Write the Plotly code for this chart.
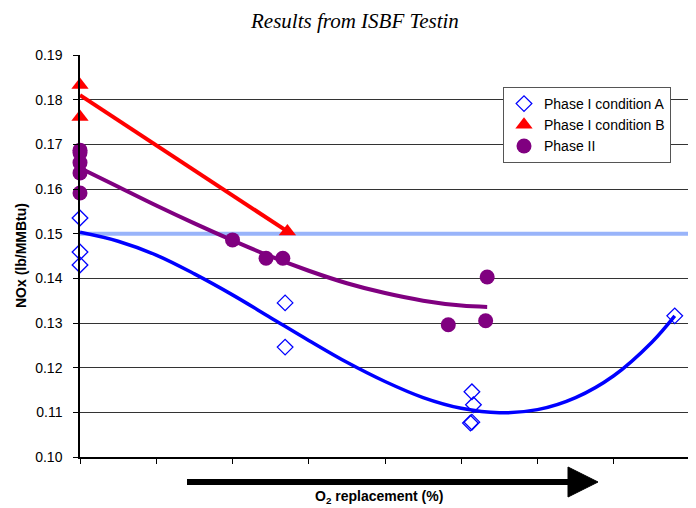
import plotly.graph_objects as go

# Phase I condition A (open diamonds)
a_x = [0, 0, 0, 2.69, 2.69, 5.14, 5.16, 5.14, 5.12, 7.80]
a_y = [0.1535, 0.1459, 0.1430, 0.1345, 0.1246, 0.1146, 0.1117, 0.1078, 0.1076, 0.1316]
# Phase I condition A trend line
a_tx = [0, 0.5, 1, 1.5, 2, 2.5, 3, 3.5, 4, 4.5, 5, 5.5, 6, 6.5, 7, 7.5, 7.8]
a_ty = [0.1503, 0.1483, 0.1452, 0.1410, 0.1363, 0.1312, 0.1261, 0.1212, 0.1169, 0.1133, 0.1109,
        0.1099, 0.1106, 0.1133, 0.1182, 0.1257, 0.1316]

# Phase I condition B (triangles)
b_x = [0, 0, 2.72]
b_y = [0.1833, 0.1761, 0.1505]
b_tx = [0, 2.72]
b_ty = [0.1810, 0.1505]

# Phase II (circles)
p_x = [0, 0, 0, 0, 0, 2.0, 2.44, 2.66, 4.83, 5.34, 5.32]
p_y = [0.1687, 0.1681, 0.1659, 0.1636, 0.1591, 0.1486, 0.1445, 0.1445, 0.1296, 0.1403, 0.1305]
p_tx = [0, 0.5, 1, 1.5, 2, 2.5, 3, 3.5, 4, 4.5, 5, 5.34]
p_ty = [0.1647, 0.1605, 0.1563, 0.1523, 0.1485, 0.1449, 0.1417, 0.1389, 0.1367, 0.1350, 0.1339, 0.1336]

# reference level
ref_level = 0.15

y_ticks = [0.10, 0.11, 0.12, 0.13, 0.14, 0.15, 0.16, 0.17, 0.18, 0.19]
x_ticks = list(range(0, 9))

# page body has an 8px margin: work in figure coordinates = screen - 8
OFF = 8
L, R, T, B = 80 - OFF, 690 - OFF, 55 - OFF, 457 - OFF
PW, PH = R - L, B - T
W, H = 696, 508


def px(x):
    return (x - OFF - L) / PW


def py(y):
    return (B - (y - OFF)) / PH


fig = go.Figure()

fig.add_trace(go.Scatter(x=[0, 8], y=[ref_level, ref_level], mode="lines",
                         line=dict(color="#99b4fa", width=4), showlegend=False, hoverinfo="skip"))
fig.add_trace(go.Scatter(x=a_tx, y=a_ty, mode="lines", line=dict(color="#0000ff", width=3.5, shape="spline"),
                         showlegend=False, hoverinfo="skip"))
fig.add_trace(go.Scatter(x=p_tx, y=p_ty, mode="lines", line=dict(color="#800080", width=4, shape="spline"),
                         showlegend=False, hoverinfo="skip"))
fig.add_trace(go.Scatter(x=b_tx, y=b_ty, mode="lines", line=dict(color="#ff0000", width=4),
                         showlegend=False, hoverinfo="skip"))

fig.add_trace(go.Scatter(x=a_x, y=a_y, mode="markers", name="Phase I condition A", cliponaxis=False,
                         marker=dict(symbol="diamond-open", size=12, color="#0000ff", line=dict(width=1.3))))
fig.add_trace(go.Scatter(x=b_x, y=b_y, mode="markers", name="Phase I condition B", cliponaxis=False,
                         marker=dict(symbol="triangle-up", size=15, color="#ff0000")))
fig.add_trace(go.Scatter(x=p_x, y=p_y, mode="markers", name="Phase II", cliponaxis=False,
                         marker=dict(symbol="circle", size=15, color="#800080")))

fig.update_layout(
    width=W, height=H,
    margin=dict(l=L, r=W - R, t=T, b=H - B, autoexpand=False),
    paper_bgcolor="white", plot_bgcolor="white",
    font=dict(family="Liberation Sans, Arial", color="#000000"),
    annotations=[
        dict(text="<i>Results from ISBF Testin</i>", xref="paper", yref="paper",
             x=px(354), y=py(21), xanchor="center", yanchor="middle",
             showarrow=False, font=dict(family="Liberation Serif, Times New Roman", size=21)),
        dict(text="<b>O<sub>2</sub> replacement (%)</b>", xref="paper", yref="paper",
             x=px(379), y=py(497), xanchor="center", yanchor="middle",
             showarrow=False, font=dict(size=14)),
        dict(text="<b>NOx (lb/MMBtu)</b>", xref="paper", yref="paper", textangle=-90,
             x=px(21), y=py(256), xanchor="center", yanchor="middle",
             showarrow=False, font=dict(size=14)),
    ],
    shapes=[
        dict(type="line", xref="paper", yref="paper", x0=1, x1=1, y0=0, y1=1,
             line=dict(color="#808080", width=2)),
        dict(type="line", xref="paper", yref="paper", x0=px(187), x1=px(572),
             y0=py(482), y1=py(482), line=dict(color="black", width=6)),
        dict(type="path", xref="paper", yref="paper",
             path="M {0},{1} L {2},{3} L {0},{4} Z".format(px(568), py(467), px(598), py(482), py(497)),
             fillcolor="black", line=dict(color="black", width=1)),
    ],
    legend=dict(x=px(503), y=py(87), xanchor="left", yanchor="top",
                bgcolor="white", bordercolor="#555555", borderwidth=1,
                font=dict(size=14, family="Liberation Sans, Arial"), tracegroupgap=0,
                itemwidth=30),
)

fig.update_xaxes(range=[0, 8], tickvals=x_ticks, showticklabels=False, ticks="outside", ticklen=5,
                 tickcolor="black", showline=True, linecolor="black", linewidth=1.5, showgrid=False,
                 zeroline=False, automargin=False)
fig.update_yaxes(range=[0.10, 0.19], tickvals=y_ticks, ticktext=["%.2f" % v for v in y_ticks],
                 ticks="outside", ticklen=5, tickcolor="black", showline=True, linecolor="black",
                 linewidth=1.5, showgrid=True, gridcolor="#333333", gridwidth=1, zeroline=False,
                 tickfont=dict(size=14), ticklabelstandoff=8, automargin=False)

fig.write_html("out.html")
